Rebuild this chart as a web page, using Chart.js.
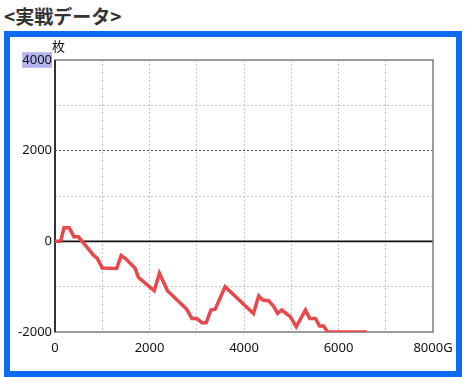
<!DOCTYPE html>
<html>
<head>
<meta charset="utf-8">
<script src="https://cdn.jsdelivr.net/npm/chart.js@4/dist/chart.umd.min.js"></script>
<style>
  body { margin: 0; background: #fff; width: 465px; height: 377px; overflow: hidden; position: relative; }
  #title {
    position: absolute; left: 4px; top: 2px;
    font-family: "Noto Sans CJK JP", sans-serif; font-weight: bold; font-size: 19px;
    color: #333;
  }
  #frame {
    position: absolute; left: 4px; top: 31px;
    width: 446px; height: 334px;
    border: 6px solid #0b6cf2; background: #fff;
  }
  #frame canvas { display: block; }
</style>
</head>
<body>
<div id="title">&lt;実戦データ&gt;</div>
<div id="frame"><canvas id="chart" width="446" height="334"></canvas></div>
<script>
// games played (G) and medal difference (枚)
const games = [0, 120, 190, 300, 400, 495, 670, 810, 895, 1000, 1305, 1400, 1505, 1590, 1695, 1765, 2100, 2210, 2380, 2790, 2895, 3000, 3110, 3200, 3300, 3390, 3600, 4200, 4310, 4400, 4520, 4625, 4710, 4800, 4980, 5105, 5300, 5390, 5510, 5600, 5685, 5770, 6600];
const medals = [0, 0, 300, 300, 100, 100, -120, -300, -375, -590, -600, -315, -390, -485, -595, -795, -1090, -705, -1090, -1500, -1700, -1700, -1795, -1795, -1515, -1495, -1000, -1590, -1205, -1295, -1310, -1430, -1590, -1515, -1660, -1885, -1515, -1700, -1700, -1870, -1870, -2000, -2000];

const xTicks = [0, 2000, 4000, 6000, 8000];
const xTickLabels = ['0', '2000', '4000', '6000', '8000G'];
const yTicks = [-2000, 0, 2000, 4000];
const yUnit = '枚';

const points = games.map((g, i) => ({x: g, y: medals[i]}));

// solid zero line, plot frame and unit label
const framePlugin = {
    id: 'frame',
    beforeDatasetsDraw(chart) {
        const {ctx, chartArea: a, scales} = chart;
        ctx.save();
        const y0 = scales.y.getPixelForValue(0);
        ctx.strokeStyle = '#111';
        ctx.lineWidth = 1.6;
        ctx.beginPath();
        ctx.moveTo(a.left, y0);
        ctx.lineTo(a.right, y0);
        ctx.stroke();

        ctx.strokeStyle = '#808080';
        ctx.lineWidth = 1.5;
        ctx.strokeRect(a.left, a.top, a.right - a.left, a.bottom - a.top);
        ctx.strokeStyle = '#333';
        ctx.lineWidth = 2;
        ctx.beginPath();
        ctx.moveTo(a.left, a.top);
        ctx.lineTo(a.left, a.bottom);
        ctx.stroke();
        ctx.restore();
    },
    afterDraw(chart) {
        const {ctx, chartArea: a} = chart;
        ctx.save();
        ctx.font = '13px "Noto Sans CJK JP"';
        ctx.fillStyle = '#111';
        ctx.textAlign = 'left';
        ctx.textBaseline = 'middle';
        ctx.fillText(yUnit, a.left - 3, a.top - 14);
        ctx.restore();
    }
};

const chart = document.getElementById('chart').getContext('2d');
new Chart(chart, {
    type: 'line',
    data: {
        datasets: [{
            data: points,
            borderColor: '#e8474b',
            borderWidth: 3.5,
            pointRadius: 0,
            tension: 0
        }]
    },
    options: {
        responsive: false,
        animation: false,
        layout: { padding: { top: 23, right: 23, left: 0, bottom: 0 } },
        plugins: { legend: { display: false }, tooltip: { enabled: false } },
        scales: {
            x: {
                type: 'linear',
                min: 0, max: 8000,
                afterFit(scale) {
                    scale.height = 39;
                    scale.paddingLeft = 0;
                    scale.paddingRight = 0;
                },
                border: { display: false, dash: [2, 2] },
                grid: { color: '#c4c4c4', lineWidth: 1, drawTicks: false },
                ticks: {
                    stepSize: 1000,
                    maxRotation: 0,
                    autoSkip: false,
                    padding: 8,
                    color: '#111',
                    font: { family: 'Noto Sans', size: 13 },
                    callback: v => xTicks.includes(v) ? xTickLabels[xTicks.indexOf(v)] : ''
                }
            },
            y: {
                min: -2000, max: 4000,
                afterFit(scale) { scale.width = 45; },
                border: { display: false, dash: [2, 2] },
                grid: {
                    color: ctx => ctx.tick && ctx.tick.value === 2000 ? '#555' : '#c4c4c4',
                    lineWidth: 1,
                    drawTicks: false
                },
                ticks: {
                    stepSize: 1000,
                    autoSkip: false,
                    padding: 3,
                    color: '#111',
                    font: { family: 'Noto Sans', size: 13 },
                    showLabelBackdrop: true,
                    backdropPadding: 0,
                    backdropColor: ctx => ctx.tick && ctx.tick.value === 4000 ? '#b3b3f2' : 'rgba(0,0,0,0)',
                    callback: v => yTicks.includes(v) ? String(v) : ''
                }
            }
        }
    },
    plugins: [framePlugin]
});
</script>
</body>
</html>
